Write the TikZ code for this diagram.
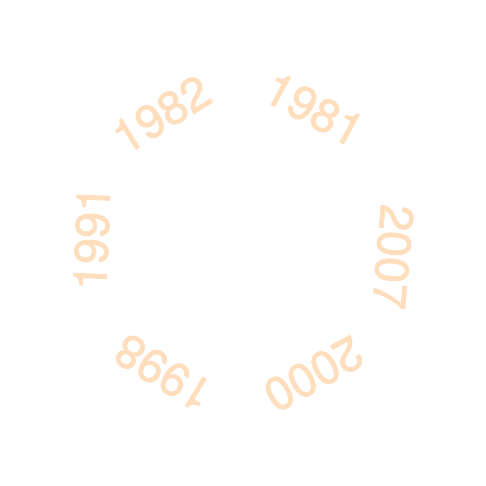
\documentclass[tikz,border=0pt]{standalone}
\usepackage{fontspec}
\newfontfamily\yearfont[FakeBold=1.5]{TeX Gyre Heros}
\definecolor{yearcol}{RGB}{255,222,190}
\begin{document}
\begin{tikzpicture}[x=1pt,y=1pt,
  year/.style={text=yearcol,font=\yearfont\fontsize{47}{47}\selectfont,inner sep=0pt,anchor=center}]
\useasboundingbox[fill=white] (0,0) rectangle (486,486);
\node[year,rotate=-28.5] (y1981) at (314,376.5) {1981};
\node[year,rotate=-94.9] (y2007) at (393,229) {2007};
\node[year,rotate=-150.9] (y2000) at (313.5,112) {2000};
\node[year,rotate=148.9] (y1998) at (163.5,113.5) {1998};
\node[year,rotate=87.7] (y1991) at (92,248) {1991};
\node[year,rotate=31.5] (y1982) at (161.5,371.5) {1982};
\end{tikzpicture}
\end{document}
